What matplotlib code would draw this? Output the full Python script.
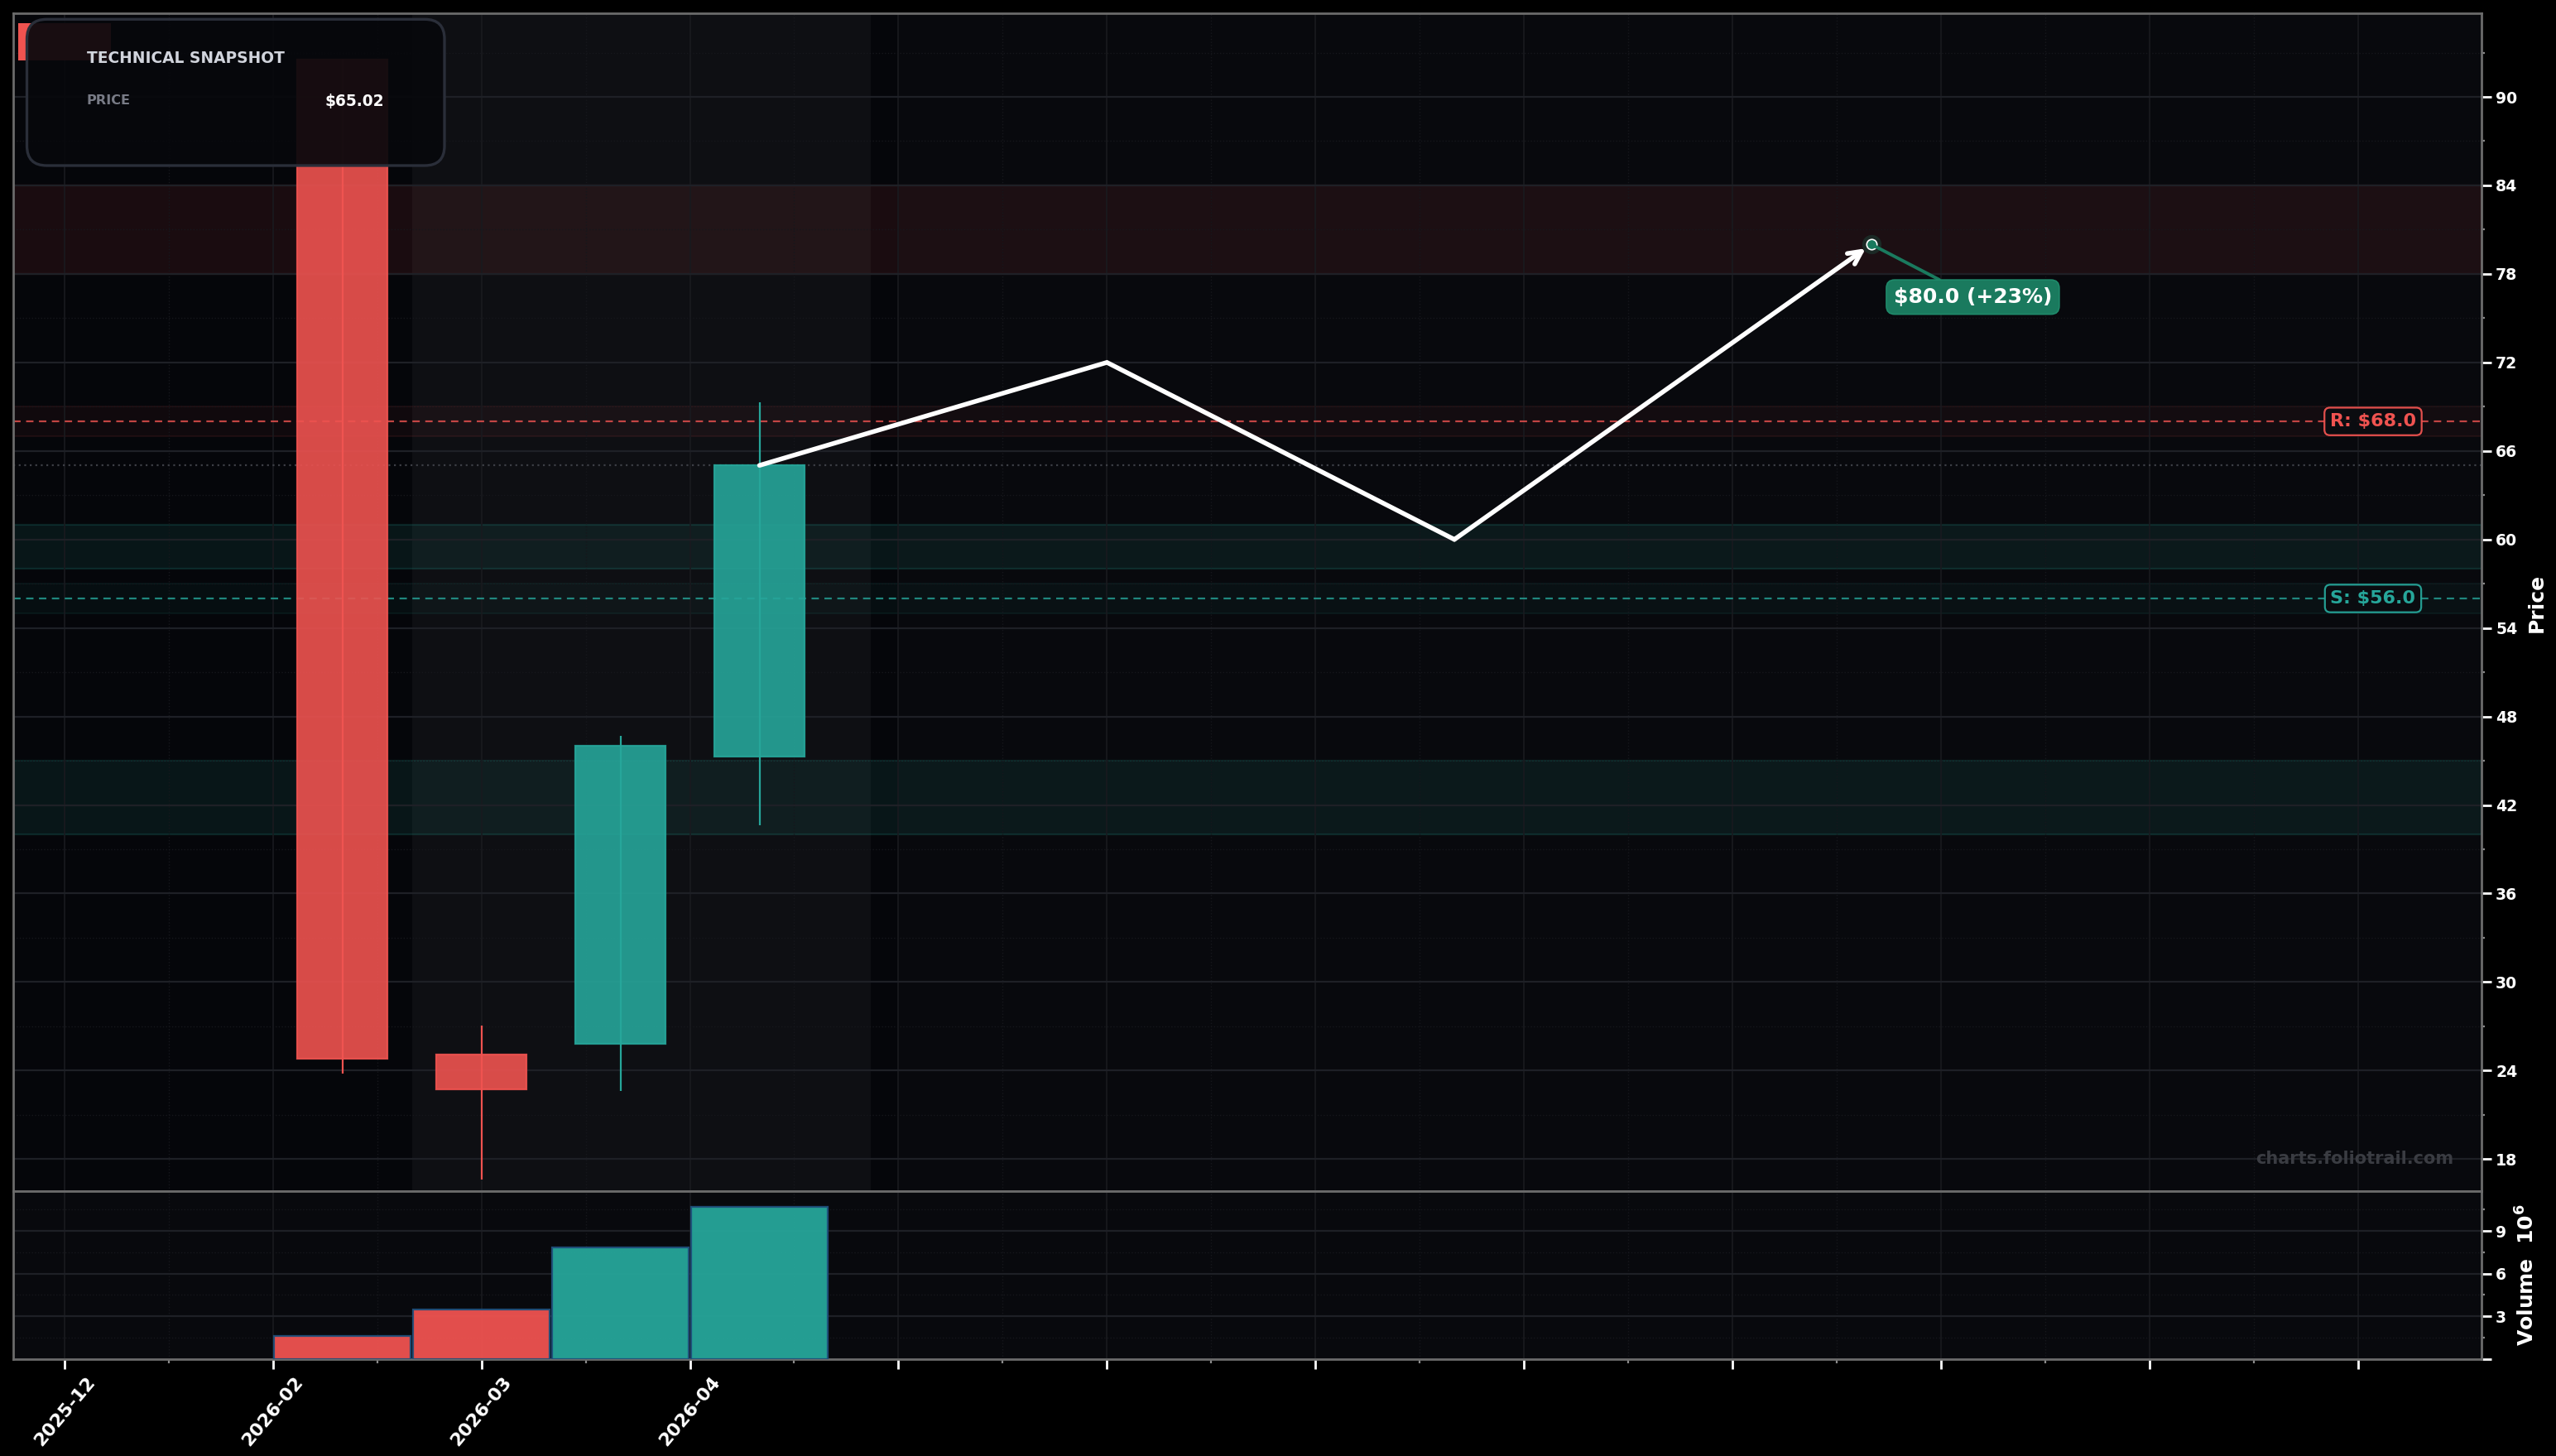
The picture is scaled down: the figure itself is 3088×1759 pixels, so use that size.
import numpy as np
import matplotlib
matplotlib.use('Agg')
import matplotlib.pyplot as plt
from matplotlib.patches import FancyBboxPatch, Rectangle
from matplotlib.ticker import MultipleLocator, FixedLocator, FixedFormatter, FuncFormatter
import matplotlib.transforms as mtransforms

plt.rcParams['font.family'] = ['DejaVu Sans']
plt.rcParams['font.weight'] = 'bold'

# ---------------- data ----------------
candle_x = [0, 1, 2, 3]
open_ = [92.54, 25.07, 25.82, 45.31]
high = [92.60, 27.04, 46.70, 69.29]
low = [23.78, 16.60, 22.62, 40.64]
close = [24.81, 22.73, 46.02, 65.02]
volume = [1.58e6, 3.48e6, 7.81e6, 10.70e6]

forecast_x = [3.0, 5.5, 8.0, 11.0]
forecast_y = [65.02, 72.0, 60.0, 80.0]

resistance_level = 68.0
support_level = 56.0
level_halfwidth = 1.0
resistance_zones = [(78.0, 84.0)]
support_zones = [(58.0, 61.0), (40.0, 45.0)]

date_labels = ['2025-12', '2026-02', '2026-03', '2026-04']
history_span = (0.5, 3.8)
future_span_start = 4.0

# ---------------- style ----------------
UP = '#26a69a'
DOWN = '#ef5350'
FIG_BG = '#000000'
AX_BG = '#05060a'
SPINE = '#6b6b6b'

fig = plt.figure(figsize=(15.44, 8.795), dpi=200, facecolor=FIG_BG)
ax = fig.add_axes([0.00512, 0.18164, 0.96573, 0.80898])
axv = fig.add_axes([0.00512, 0.06679, 0.96573, 0.11485], sharex=ax)

ax.set_facecolor(AX_BG)
axv.set_facecolor('#08090d')

xmin, xmax = -2.37, 15.39
ax.set_xlim(xmin, xmax)
ax.set_ylim(15.8, 95.64)

# background spans
ax.axvspan(history_span[0], history_span[1], color='#0e0f13', zorder=0.1, lw=0)
ax.axvspan(future_span_start, xmax, color='#08090d', zorder=0.1, lw=0)

# zones
for lo, hi in resistance_zones:
    ax.axhspan(lo, hi, facecolor=(239/255, 83/255, 80/255, 0.09),
               edgecolor=(239/255, 83/255, 80/255, 0.22), lw=0.8, zorder=0.3)
for lo, hi in support_zones:
    ax.axhspan(lo, hi, facecolor=(38/255, 166/255, 154/255, 0.10),
               edgecolor=(38/255, 166/255, 154/255, 0.18), lw=0.8, zorder=0.3)
ax.axhspan(resistance_level - level_halfwidth, resistance_level + level_halfwidth,
           facecolor=(239/255, 83/255, 80/255, 0.05),
           edgecolor=(239/255, 83/255, 80/255, 0.10), lw=0.6, zorder=0.3)
ax.axhspan(support_level - level_halfwidth, support_level + level_halfwidth,
           facecolor=(38/255, 166/255, 154/255, 0.05),
           edgecolor=(38/255, 166/255, 154/255, 0.10), lw=0.6, zorder=0.3)

# grid
for a in (ax, axv):
    a.set_axisbelow(True)
    a.grid(axis='y', which='major', color='#1e2026', lw=0.8)
    a.grid(axis='x', which='major', color='#191a1f', lw=0.6)
    a.grid(axis='both', which='minor', color='#16171c', lw=0.5, ls=':')

# level lines
ax.axhline(resistance_level, color=DOWN, alpha=0.8, lw=0.8, ls=(0, (4, 3)), zorder=2)
ax.axhline(support_level, color=UP, alpha=0.8, lw=0.8, ls=(0, (4, 3)), zorder=2)
ax.axhline(close[-1], color='#3c3e45', lw=0.8, ls=(0, (1, 2)), zorder=2)

# candles
for x, o, h, l, c in zip(candle_x, open_, high, low, close):
    col = UP if c >= o else DOWN
    ax.vlines(x, l, h, color=col, lw=0.8, zorder=3)
    ax.bar(x, abs(c - o), bottom=min(o, c), width=0.65, color=col, alpha=0.9,
           edgecolor=col, linewidth=0.8, zorder=4)

# volume
vcols = [UP if c >= o else DOWN for o, c in zip(open_, close)]
axv.bar(candle_x, volume, width=0.98, color=vcols, alpha=0.95,
        edgecolor='#1f4e79', linewidth=0.8, zorder=3)
axv.set_ylim(0, max(volume) * 1.1)

# forecast path
ax.plot(forecast_x[:-1], forecast_y[:-1], color='white', lw=2.0, zorder=5,
        solid_capstyle='round', solid_joinstyle='miter')
ax.annotate('', xy=(forecast_x[-1], forecast_y[-1]), xytext=(forecast_x[-2], forecast_y[-2]),
            arrowprops=dict(arrowstyle='->', color='white', lw=2.0, shrinkA=0, shrinkB=3,
                            mutation_scale=14), zorder=5)
ax.scatter([forecast_x[-1]], [forecast_y[-1]], s=70, color='#1a7a5e', alpha=0.25, lw=0, zorder=5)
ax.scatter([forecast_x[-1]], [forecast_y[-1]], s=20, color='#1a7a5e', edgecolor='white',
           lw=0.6, zorder=6)

target = forecast_y[-1]
pct = (target / close[-1] - 1) * 100
ax.annotate(f'${target:.1f} (+{pct:.0f}%)', xy=(forecast_x[-1], forecast_y[-1]),
            xytext=(11.73, 76.43), ha='center', va='center', color='white',
            fontsize=9, fontweight='bold',
            bbox=dict(boxstyle='round,pad=0.35,rounding_size=0.4', fc='#1a7a5e', ec='#1f8a6a', lw=0.6),
            arrowprops=dict(arrowstyle='-', color='#1a7a5e', lw=1.4, shrinkA=0, shrinkB=2),
            zorder=7)

# R / S labels
blend = mtransforms.blended_transform_factory(ax.transAxes, ax.transData)
ax.text(0.95607, resistance_level, f'R: ${resistance_level:.1f}', transform=blend,
        ha='center', va='center', color=DOWN, fontsize=8, fontweight='bold', zorder=7,
        bbox=dict(boxstyle='round,pad=0.3', fc='#0b0c10', ec=DOWN, lw=0.8, alpha=0.95))
ax.text(0.95607, support_level, f'S: ${support_level:.1f}', transform=blend,
        ha='center', va='center', color=UP, fontsize=8, fontweight='bold', zorder=7,
        bbox=dict(boxstyle='round,pad=0.3', fc='#0b0c10', ec=UP, lw=0.8, alpha=0.95))

# watermark
ax.text(0.9886, 0.0278, 'charts.foliotrail.com', transform=ax.transAxes, ha='right',
        va='center', color='#3a3c42', fontsize=7.5, fontweight='bold', zorder=2)

# red badge (under snapshot card)
ax.add_patch(Rectangle((0.00201, 0.96008), 0.03762, 0.03163, transform=ax.transAxes,
                       facecolor=DOWN, edgecolor='none', zorder=9, clip_on=False))

# snapshot card
card = FancyBboxPatch((0.0056, 0.87105), 0.16917, 0.12417,
                      boxstyle='round,pad=0,rounding_size=0.008', mutation_aspect=2.096,
                      transform=ax.transAxes, facecolor=(7/255, 8/255, 12/255, 0.93),
                      edgecolor='#2a2e39', lw=1.2, zorder=10, clip_on=False)
ax.add_patch(card)
ax.text(0.02974, 0.9624, 'TECHNICAL SNAPSHOT', transform=ax.transAxes, ha='left', va='center',
        color='#d1d4dc', fontsize=6.7, fontweight='bold', zorder=11)
ax.text(0.0299, 0.92656, 'PRICE', transform=ax.transAxes, ha='left', va='center',
        color='#787b86', fontsize=5.8, fontweight='bold', zorder=11)
ax.text(0.15029, 0.9255, f'${close[-1]:.2f}', transform=ax.transAxes, ha='right', va='center',
        color='white', fontsize=6.7, fontweight='bold', zorder=11)

# axes / ticks
xticks = np.arange(-2.0, xmax, 1.5)
xlabels = date_labels + [''] * (len(xticks) - len(date_labels))
axv.xaxis.set_major_locator(FixedLocator(xticks))
axv.xaxis.set_major_formatter(FixedFormatter(xlabels))
axv.xaxis.set_minor_locator(FixedLocator(xticks[:-1] + 0.75))

ax.yaxis.set_major_locator(MultipleLocator(6))
ax.yaxis.set_minor_locator(MultipleLocator(3))
axv.yaxis.set_major_locator(MultipleLocator(3e6))
axv.yaxis.set_minor_locator(MultipleLocator(1.5e6))
axv.yaxis.set_major_formatter(FuncFormatter(lambda v, p: f'{v/1e6:.0f}' if v > 0 else ''))

for a in (ax, axv):
    a.yaxis.tick_right()
    a.yaxis.set_label_position('right')
    a.tick_params(axis='y', which='major', colors='white', length=4.2, width=1.0, pad=2,
                  labelsize=6.8)
    a.tick_params(axis='y', which='minor', colors='#8a8a8a', length=1.6, width=0.8)
    for s in a.spines.values():
        s.set_color(SPINE)
        s.set_linewidth(1.0)

ax.tick_params(axis='x', which='both', bottom=False, labelbottom=False)
axv.tick_params(axis='x', which='major', colors='white', length=4.4, width=1.0, pad=2,
                labelsize=8)
axv.tick_params(axis='x', which='minor', colors='#8a8a8a', length=1.8, width=0.8)
for lab in axv.get_xticklabels():
    lab.set_rotation(50)
    lab.set_fontweight('bold')
for lab in ax.get_yticklabels() + axv.get_yticklabels():
    lab.set_fontweight('bold')

ax.set_ylabel('Price', color='white', fontsize=9, fontweight='bold')
axv.set_ylabel(r'Volume  $\mathbf{10^{6}}$', color='white', fontsize=9, fontweight='bold')

fig.savefig('out.png', dpi=200, facecolor=FIG_BG)
